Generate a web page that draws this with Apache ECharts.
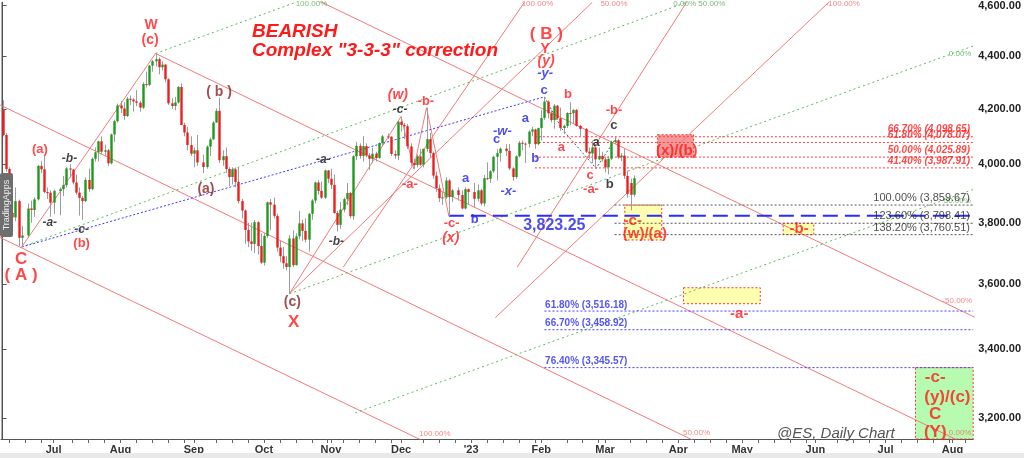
<!DOCTYPE html>
<html><head><meta charset="utf-8">
<script src="https://cdn.jsdelivr.net/npm/echarts@6/dist/echarts.min.js"></script>
<style>html,body{margin:0;padding:0;background:#fff}#c{width:1024px;height:458px}</style>
</head><body><div id="c"></div><script>
// ---------------- DATA ----------------
const axisStart = '2022-06-09';
const axisEnd = '2023-08-09';
// daily candles: [date, open, high, low, close]
const candles = [
['2022-06-09',4198,4232,4100,4105],['2022-06-10',4105,4112,3975,3984],['2022-06-13',3984,3990,3815,3833],
['2022-06-14',3833,3862,3790,3818],['2022-06-15',3818,3920,3805,3873],['2022-06-16',3873,3878,3722,3750],
['2022-06-17',3750,3790,3720,3758],['2022-06-21',3758,3865,3750,3848],['2022-06-22',3848,3875,3800,3843],
['2022-06-23',3843,3885,3820,3879],['2022-06-24',3879,3998,3875,3995],['2022-06-27',3995,4012,3970,3983],
['2022-06-28',3983,4030,3900,3904],['2022-06-29',3904,3920,3880,3902],['2022-06-30',3902,3910,3820,3868],
['2022-07-01',3868,3912,3830,3908],['2022-07-05',3908,3920,3825,3914],['2022-07-06',3914,3960,3890,3928],
['2022-07-07',3928,3990,3920,3986],['2022-07-08',3986,4001,3955,3982],['2022-07-11',3982,3985,3930,3937],
['2022-07-12',3937,3965,3895,3902],['2022-07-13',3902,3920,3824,3884],['2022-07-14',3884,3890,3810,3873],
['2022-07-15',3873,3955,3870,3946],['2022-07-18',3946,3985,3905,3914],['2022-07-19',3914,4025,3910,4020],
['2022-07-20',4020,4060,4010,4043],['2022-07-21',4043,4085,4010,4082],['2022-07-22',4082,4100,4035,4045],
['2022-07-25',4045,4070,4030,4050],['2022-07-26',4050,4055,3995,4004],['2022-07-27',4004,4110,4000,4107],
['2022-07-28',4107,4160,4080,4155],['2022-07-29',4155,4220,4150,4213],['2022-08-01',4213,4230,4185,4202],
['2022-08-02',4202,4225,4160,4174],['2022-08-03',4174,4245,4170,4238],['2022-08-04',4238,4250,4215,4235],
['2022-08-05',4235,4240,4190,4228],['2022-08-08',4228,4270,4210,4223],['2022-08-09',4223,4230,4190,4205],
['2022-08-10',4205,4300,4200,4293],['2022-08-11',4293,4340,4280,4290],['2022-08-12',4290,4365,4285,4363],
['2022-08-15',4363,4385,4340,4380],['2022-08-16',4380,4410,4360,4388],['2022-08-17',4388,4395,4330,4357],
['2022-08-18',4357,4380,4345,4367],['2022-08-19',4367,4370,4300,4311],['2022-08-22',4311,4315,4215,4221],
['2022-08-23',4221,4240,4200,4211],['2022-08-24',4211,4245,4195,4224],['2022-08-25',4224,4285,4220,4282],
['2022-08-26',4282,4295,4140,4141],['2022-08-29',4141,4150,4100,4114],['2022-08-30',4114,4135,4050,4069],
['2022-08-31',4069,4100,4030,4038],['2022-09-01',4038,4060,3990,4050],['2022-09-02',4050,4105,3995,4007],
['2022-09-06',4007,4035,3970,3991],['2022-09-07',3991,4068,3985,4063],['2022-09-08',4063,4095,4030,4089],
['2022-09-09',4089,4155,4088,4150],['2022-09-12',4150,4202,4150,4193],['2022-09-13',4193,4242,4005,4015],
['2022-09-14',4015,4050,3995,4029],['2022-09-15',4029,4060,3970,3984],['2022-09-16',3984,3990,3925,3956],
['2022-09-19',3956,3990,3930,3983],['2022-09-20',3983,3990,3920,3939],['2022-09-21',3939,3990,3865,3873],
['2022-09-22',3873,3880,3815,3841],['2022-09-23',3841,3845,3730,3776],['2022-09-26',3776,3800,3720,3738],
['2022-09-27',3738,3800,3707,3730],['2022-09-28',3730,3810,3700,3802],['2022-09-29',3802,3805,3695,3723],
['2022-09-30',3723,3765,3665,3669],['2022-10-03',3669,3765,3660,3756],['2022-10-04',3756,3872,3750,3869],
['2022-10-05',3869,3880,3775,3861],['2022-10-06',3861,3885,3815,3823],['2022-10-07',3823,3830,3705,3718],
['2022-10-10',3718,3740,3670,3690],['2022-10-11',3690,3720,3650,3667],['2022-10-12',3667,3690,3645,3655],
['2022-10-13',3655,3760,3570,3748],['2022-10-14',3748,3775,3655,3661],['2022-10-17',3661,3765,3660,3755],
['2022-10-18',3755,3840,3745,3798],['2022-10-19',3798,3810,3740,3773],['2022-10-20',3773,3815,3735,3744],
['2022-10-21',3744,3832,3705,3830],['2022-10-24',3830,3880,3810,3875],['2022-10-25',3875,3940,3865,3937],
['2022-10-26',3937,3945,3895,3908],['2022-10-27',3908,3940,3880,3885],['2022-10-28',3885,3982,3880,3979],
['2022-10-31',3979,3980,3935,3950],['2022-11-01',3950,3985,3915,3929],['2022-11-02',3929,3965,3830,3833],
['2022-11-03',3833,3840,3771,3793],['2022-11-04',3793,3870,3780,3844],['2022-11-07',3844,3885,3835,3880],
['2022-11-08',3880,3935,3860,3901],['2022-11-09',3901,3905,3815,3822],['2022-11-10',3822,4032,3810,4029],
['2022-11-11',4029,4080,4015,4066],['2022-11-14',4066,4075,4020,4030],['2022-11-15',4030,4101,4010,4065],
['2022-11-16',4065,4075,4025,4032],['2022-11-17',4032,4040,3980,4020],['2022-11-18',4020,4060,4005,4038],
['2022-11-21',4038,4045,4010,4023],['2022-11-22',4023,4078,4020,4076],['2022-11-23',4076,4105,4065,4100],
['2022-11-25',4100,4110,4090,4099],['2022-11-28',4099,4100,4030,4037],['2022-11-29',4037,4050,4020,4031],
['2022-11-30',4031,4155,4015,4153],['2022-12-01',4153,4172,4118,4141],['2022-12-02',4141,4148,4090,4137],
['2022-12-05',4137,4145,4055,4064],['2022-12-06',4064,4075,3995,4006],['2022-12-07',4006,4020,3985,3998],
['2022-12-08',3998,4035,3990,4028],['2022-12-09',4028,4055,3995,3999],['2022-12-12',3999,4056,3990,4055],
['2022-12-13',4055,4205,4045,4090],['2022-12-14',4090,4112,4025,4040],['2022-12-15',4040,4045,3950,3961],
['2022-12-16',3961,3975,3905,3917],['2022-12-19',3917,3930,3870,3883],['2022-12-20',3883,3905,3860,3886],
['2022-12-21',3886,3955,3880,3944],['2022-12-22',3944,3950,3823.25,3887],['2022-12-23',3887,3915,3870,3910],
['2022-12-27',3910,3920,3875,3894],['2022-12-28',3894,3910,3845,3848],['2022-12-29',3848,3920,3845,3914],
['2022-12-30',3914,3916,3860,3904],['2023-01-03',3904,3935,3851,3881],['2023-01-04',3881,3930,3872,3910],
['2023-01-05',3910,3915,3859,3865],['2023-01-06',3865,3963,3855,3952],['2023-01-09',3952,4007,3945,3950],
['2023-01-10',3950,3980,3935,3976],['2023-01-11',3976,4030,3970,4027],['2023-01-12',4027,4054,3944,4040],
['2023-01-13',4040,4060,4010,4056],['2023-01-17',4056,4072,4030,4048],['2023-01-18',4048,4073,3980,3986],
['2023-01-19',3986,3990,3943,3956],['2023-01-20',3956,4032,3950,4029],['2023-01-23',4029,4083,4025,4077],
['2023-01-24',4077,4085,4050,4074],['2023-01-25',4074,4078,4005,4073],['2023-01-26',4073,4122,4060,4117],
['2023-01-27',4117,4135,4100,4125],['2023-01-30',4125,4128,4055,4072],['2023-01-31',4072,4132,4068,4130],
['2023-02-01',4130,4196,4085,4167],['2023-02-02',4167,4245,4160,4227],['2023-02-03',4227,4232,4165,4184],
['2023-02-06',4184,4195,4150,4159],['2023-02-07',4159,4218,4128,4212],['2023-02-08',4212,4215,4160,4166],
['2023-02-09',4166,4205,4120,4130],['2023-02-10',4130,4142,4108,4138],['2023-02-13',4138,4188,4130,4185],
['2023-02-14',4185,4225,4140,4184],['2023-02-15',4184,4200,4145,4196],['2023-02-16',4196,4200,4135,4138],
['2023-02-17',4138,4142,4100,4127],['2023-02-21',4127,4130,4040,4045],['2023-02-22',4045,4060,4020,4039],
['2023-02-23',4039,4085,4005,4060],['2023-02-24',4060,4065,3988,4018],['2023-02-27',4018,4060,4015,4030],
['2023-02-28',4030,4045,4010,4018],['2023-03-01',4018,4028,3972,3990],['2023-03-02',3990,4030,3965,4020],
['2023-03-03',4020,4085,4015,4080],['2023-03-06',4080,4098,4072,4086],['2023-03-07',4086,4090,4020,4025],
['2023-03-08',4025,4040,4012,4031],['2023-03-09',4031,4055,3950,3960],['2023-03-10',3960,3978,3885,3898],
['2023-03-13',3935,3950,3842,3895],['2023-03-14',3895,3962,3888,3951.75]
];
const lastPrice = 3951.75;
const yMin = 3142, yMax = 4613;
const yTicks = [3200, 3400, 3600, 3800, 4000, 4200, 4400, 4600];
const monthNames = ['Jan','Feb','Mar','Apr','May','Jun','Jul','Aug','Sep','Oct','Nov','Dec'];

// annotation lines: [barIndex, price] points
const channelDown = [
  [[-1, 3752], [305, 2484]],   // 100%
  [[-1, 4216], [305, 2784]],   // 50%
  [[48, 4410], [305, 3116]],   // 0%
  [[-1, 5289], [305, 3497]]    // -50%
];
const redRising = [
  [[6, 3720], [48, 4410]],
  [[90, 3570], [125, 4172]],
  [[90, 3570], [185, 4613]],
  [[106.9, 3655], [163.7, 4613]],
  [[161.5, 3655], [214.6, 4613]],
  [[154.6, 3496], [259.2, 4613]]
];
const redWave = [[125, 4172], [129, 3985], [133, 4205], [140, 3823.25]];
const blackWave = [[170, 4245], [175.4, 4128], [186.2, 3986], [192.4, 4093]];
const greenChannel = [
  [[48, 4410], [92, 4613]],
  [[6, 3720], [214.6, 4613]],
  [[90, 3570], [304.5, 4439]],
  [[110.6, 3215], [304.5, 3913]]
];
const blueTrend = [[6, 3720], [170, 4245]];
const supportLevel = 3823.25, supportStart = 140;
const fibRed = [[66.70, 4098.65], [61.80, 4078.07], [50.00, 4025.89], [41.40, 3987.91]], fibRedStart = 167;
const fibBlack = [[100.00, 3859.67], [123.60, 3798.41], [138.20, 3760.51]], fibBlackStart = 192;
const fibBlue = [[61.80, 3516.18], [66.70, 3458.92], [76.40, 3345.57]], fibBlueStart = 170;
const lineEnd = 304.5;

// target boxes: [x1, p1, x2, p2]
const yellowBoxes = [[195.2, 3859.67, 206.8, 3743], [244.9, 3798.41, 254.5, 3760.51], [213.6, 3589, 237.7, 3539]];
const pinkBox = [205.5, 4106, 216.8, 4025.89];
const greenBox = [286.4, 3345.57, 304.5, 3142];

// text annotations: [text, barIndex, price]
const tRedBig = [['C',5.8,3681],['( A )',5.8,3627],['X',91.3,3483],['( B )',170.6,4486]];
const tRed14 = [['W',46.6,4521],['(c)',46.3,4462],['Y',170.2,4427]];
const tRed = [['(a)',11.7,4053],['(b)',24.8,3733],['-b-',132.8,4227],['-a-',127.8,3931],['-c-',140.9,3799],
  ['b',177.4,4253],['a',175.3,4060],['c',184.3,3962],['-b-',191.8,4194],['-a-',184.6,3913]];
const tRedItalic = [['(w)',124.0,4253],['(x)',140.6,3749],['(y)',170.5,4381]];
const tDarkRed = [['( b )',67.9,4264],['(a)',63.8,3913],['(c)',90.9,3545]];
const tBlackItalic = [['-a-',14.8,3799],['-b-',21.0,4021],['-c-',24.8,3776],['-a-',100.6,4018],['-b-',104.7,3736],['-c-',124.7,4197]];
const tBlack = [['a',186.2,4078],['b',190.5,3931],['c',191.8,4139]];
const tBlue = [['a',145.3,3951],['b',148.1,3812],['c',155.0,4088],['a',164.0,4164],['b',167.1,4021],['c',169.9,4268]];
const tBlueItalic = [['-x-',158.7,3907],['-w-',156.8,4117],['-y-',170.2,4332]];
const tBlueBig = [['3,823.25',173.1,3792]];
const tBox = [['-c-',197.7,3805],['(w)/(a)',201.5,3762],['(x)/(b)',211.5,4049],['-b-',249.9,3779],['-a-',231.1,3508]];
const tGreenBox = [['-c-',292.6,3317],['(y)/(c)',296.4,3259],['C',292.6,3211],['(Y)',292.6,3161]];
const tChanRed = [['100.00%',135.6,3156],['50.00%',217.7,3158],['0.00%',300.4,3158],['-50.00%',299.5,3548],
  ['100.00%',167.8,4605],['50.00%',191.8,4605],['-100.00%',263.6,4605]];
const tChanGreen = [['100.00%',96.9,4605],['0.00% 50.00%',218.6,4605],['0.00%',300.4,4408],['50.00%',299.5,3873]];

// ---------------- BUILD ----------------
const FONT = 'Liberation Sans, Arial, sans-serif';
const L = Math.log;
const DOT = [2, 2];
function weekdays(a, b) {
  const out = []; const d = new Date(a + 'T00:00:00Z'); const e = new Date(b + 'T00:00:00Z');
  while (d <= e) { const w = d.getUTCDay(); if (w !== 0 && w !== 6) out.push(d.toISOString().slice(0, 10)); d.setUTCDate(d.getUTCDate() + 1); }
  return out;
}
const cats = weekdays(axisStart, axisEnd);
const catIndex = {}; cats.forEach((c, i) => catIndex[c] = i);
const monthLabel = {}; const monthStartIdx = [];
cats.forEach((c, i) => {
  if (i > 0 && c.slice(0, 7) !== cats[i - 1].slice(0, 7)) {
    const m = +c.slice(5, 7) - 1;
    monthLabel[c] = m === 0 ? "'" + c.slice(2, 4) : monthNames[m];
    monthStartIdx.push(i);
  }
});
const tickIdx = new Set(monthStartIdx);
cats.forEach((c, i) => {
  const w = new Date(c + 'T00:00:00Z').getUTCDay();
  if (w === 1 && !monthStartIdx.some(m => i > m && i - m <= 3)) tickIdx.add(i);
});
const fmt = v => v.toLocaleString('en-US', {minimumFractionDigits: 2, maximumFractionDigits: 2});

const candleData = candles.map(([d, o, h, l, c]) => [catIndex[d], L(o), L(h), L(l), L(c)]);

function seg(points, lineStyle, z) {
  return {type: 'line', xAxisIndex: 1, yAxisIndex: 0, data: points.map(([x, p]) => [x, L(p)]),
    symbol: 'none', lineStyle: Object.assign({width: 1}, lineStyle), silent: true, z: z || 3, clip: true, animation: false};
}
function textSeries(items, style, z) {
  return {type: 'scatter', xAxisIndex: 1, yAxisIndex: 0, symbolSize: 1, itemStyle: {color: 'rgba(0,0,0,0)'},
    silent: true, z: z || 10, clip: false, animation: false,
    label: Object.assign({show: true, position: 'inside', formatter: '{b}', fontFamily: FONT}, style),
    data: items.map(([t, x, p]) => ({name: t, value: [x, L(p)]}))};
}
const series = [];
const RED_LINE = '#f27a7a';
channelDown.forEach(s => series.push(seg(s, {color: RED_LINE})));
redRising.forEach(s => series.push(seg(s, {color: RED_LINE})));
series.push(seg(redWave, {color: RED_LINE}));
series.push(seg(blackWave, {color: '#555', type: DOT}));
greenChannel.forEach(s => series.push(seg(s, {color: '#5cb85c', type: [2, 3]})));
series.push(seg(blueTrend, {color: '#3a3aff', type: DOT}));
fibRed.forEach(([, p]) => series.push(seg([[fibRedStart, p], [lineEnd, p]], {color: '#ff3b3b', type: DOT})));
fibBlack.forEach(([, p]) => series.push(seg([[fibBlackStart, p], [lineEnd, p]], {color: '#555', type: DOT})));
fibBlue.forEach(([, p]) => series.push(seg([[fibBlueStart, p], [lineEnd, p]], {color: '#4040ff', type: DOT})));
series.push(seg([[supportStart, supportLevel], [lineEnd, supportLevel]], {color: '#2b2bff', width: 2, type: [15, 7]}, 4));

// boxes
const boxStyle = (fill) => ({color: fill, borderColor: '#ff3333', borderWidth: 1, borderType: [2, 2]});
const areaData = [];
yellowBoxes.forEach(b => areaData.push([{coord: [b[0], L(b[1])], itemStyle: boxStyle('#ffffb0')}, {coord: [b[2], L(b[3])]}]));
areaData.push([{coord: [pinkBox[0], L(pinkBox[1])], itemStyle: boxStyle('rgba(238,90,90,0.62)')}, {coord: [pinkBox[2], L(pinkBox[3])]}]);
areaData.push([{coord: [greenBox[0], L(greenBox[1])], itemStyle: boxStyle('#b6fbb0')}, {coord: [greenBox[2], L(greenBox[3])]}]);
series.push({type: 'line', xAxisIndex: 1, yAxisIndex: 0, data: [[0, L(4000)]], symbol: 'none', lineStyle: {opacity: 0},
  silent: true, z: 1, animation: false, markArea: {silent: true, data: areaData, label: {show: false}},
  markLine: {silent: true, symbol: ['none', 'none'], animation: false, lineStyle: {opacity: 0},
    data: [{yAxis: L(lastPrice)}],
    label: {show: true, position: 'end', formatter: fmt(lastPrice), color: '#fff', backgroundColor: '#ff2626',
      fontWeight: 'bold', fontSize: 11, fontFamily: FONT, padding: [2, 3, 1, 3], distance: 2}}});

// candles
series.push({type: 'custom', xAxisIndex: 0, yAxisIndex: 0, z: 6, animation: false, silent: true,
  encode: {x: 0, y: [1, 2, 3, 4]}, data: candleData,
  renderItem: function (params, api) {
    const i = api.value(0), o = api.value(1), h = api.value(2), l = api.value(3), c = api.value(4);
    const pO = api.coord([i, o]), pC = api.coord([i, c]), pH = api.coord([i, h]), pL = api.coord([i, l]);
    const x = Math.round(pO[0]) + 0.5, w = 2.4;
    const top = Math.min(pO[1], pC[1]), bot = Math.max(pO[1], pC[1]);
    return {type: 'group', children: [
      {type: 'line', shape: {x1: x, y1: pH[1], x2: x, y2: pL[1]}, style: {stroke: '#9c9c9c', lineWidth: 1}},
      {type: 'rect', shape: {x: x - w / 2, y: top, width: w, height: Math.max(bot - top, 1)},
        style: {fill: c >= o ? '#1d9a1d' : '#ee1d1d'}}
    ]};
  }});

// texts
series.push(textSeries(tRedBig, {color: '#ff1a1a', fontSize: 17, fontWeight: 'bold'}));
series.push(textSeries(tRed14, {color: '#ff1a1a', fontSize: 14, fontWeight: 'bold'}));
series.push(textSeries(tRed, {color: '#ff1a1a', fontSize: 13, fontWeight: 'bold'}));
series.push(textSeries(tRedItalic, {color: '#ff1a1a', fontSize: 14, fontWeight: 'bold', fontStyle: 'italic'}));
series.push(textSeries(tDarkRed, {color: '#8a2222', fontSize: 14, fontWeight: 'bold'}));
series.push(textSeries(tBlackItalic, {color: '#111', fontSize: 12, fontWeight: 'bold', fontStyle: 'italic'}));
series.push(textSeries(tBlack, {color: '#111', fontSize: 13, fontWeight: 'bold'}));
series.push(textSeries(tBlue, {color: '#2020ee', fontSize: 13, fontWeight: 'bold'}));
series.push(textSeries(tBlueItalic, {color: '#2020ee', fontSize: 13, fontWeight: 'bold', fontStyle: 'italic'}));
series.push(textSeries(tBlueBig, {color: '#2020ee', fontSize: 16, fontWeight: 'bold'}));
series.push(textSeries(tBox, {color: '#ff1a1a', fontSize: 15, fontWeight: 'bold'}));
series.push(textSeries(tGreenBox, {color: '#ff1a1a', fontSize: 17, fontWeight: 'bold'}));
series.push(textSeries(tChanRed, {color: '#f06a6a', fontSize: 8}));
series.push(textSeries(tChanGreen, {color: '#55a855', fontSize: 8}));
series.push(textSeries(fibRed.map(([pct, p]) => [pct.toFixed(2) + '% (' + fmt(p) + ')', 303.5, p]),
  {color: '#ff1a1a', fontSize: 10, fontWeight: 'bold', fontStyle: 'italic', align: 'right', offset: [0, -7]}));
series.push(textSeries(fibBlack.map(([pct, p]) => [pct.toFixed(2) + '% (' + fmt(p) + ')', 303.5, p]),
  {color: '#222', fontSize: 11, align: 'right', offset: [0, -7]}));
series.push(textSeries(fibBlue.map(([pct, p]) => [pct.toFixed(2) + '% (' + fmt(p) + ')', 170.2, p]),
  {color: '#2a2aee', fontSize: 10, fontWeight: 'bold', align: 'left', offset: [0, -6]}));

const option = {
  animation: false,
  textStyle: {fontFamily: FONT},
  grid: {left: 1, right: 46, top: 0, bottom: 19, containLabel: false},
  xAxis: [
    {type: 'category', data: cats, boundaryGap: true,
      axisLine: {lineStyle: {color: '#555'}},
      axisTick: {show: true, alignWithLabel: true, length: 4, interval: (i) => tickIdx.has(i), lineStyle: {color: '#666'}},
      axisLabel: {interval: (i, v) => !!monthLabel[v], formatter: (v) => monthLabel[v] || '', color: '#333',
        fontWeight: 'bold', fontSize: 11, fontFamily: FONT, margin: 5},
      splitLine: {show: false}},
    {type: 'value', min: -0.5, max: cats.length - 0.5, show: false}
  ],
  yAxis: [
    {type: 'value', position: 'right', min: L(yMin), max: L(yMax),
      axisLine: {show: true, lineStyle: {color: '#555'}},
      axisTick: {show: true, length: 4, customValues: yTicks.map(L), lineStyle: {color: '#555'}},
      axisLabel: {customValues: yTicks.map(L), formatter: (v) => fmt(Math.round(Math.exp(v))), color: '#222',
        fontWeight: 'bold', fontSize: 11, fontFamily: FONT, margin: 5},
      splitLine: {show: false}},
    {type: 'value', position: 'left', min: L(yMin), max: L(yMax),
      axisLine: {show: true, lineStyle: {color: '#aaa'}}, axisTick: {show: false}, axisLabel: {show: false}, splitLine: {show: false}}
  ],
  graphic: [
    {type: 'text', x: 252, y: 22, z: 100, style: {text: 'BEARISH', fill: '#ff1a1a', font: 'italic bold 19px ' + FONT, textAlign: 'left', textVerticalAlign: 'top'}},
    {type: 'text', x: 252, y: 41, z: 100, style: {text: 'Complex "3-3-3" correction', fill: '#ff1a1a', font: 'italic bold 19px ' + FONT, textAlign: 'left', textVerticalAlign: 'top'}},
    {type: 'text', x: 777, y: 441, z: 100, style: {text: '@ES, Daily Chart', fill: '#555', font: 'italic 15px ' + FONT, textAlign: 'left', textVerticalAlign: 'bottom'}},
    {type: 'rect', z: 100, shape: {x: 0, y: 173, width: 13, height: 64, r: 2}, style: {fill: '#6e6e6e'}},
    {type: 'text', x: 7, y: 205, rotation: Math.PI / 2, z: 101, style: {text: 'TradingApps', fill: '#eeeeee', font: '9px ' + FONT, textAlign: 'center', textVerticalAlign: 'middle'}},
    {type: 'rect', z: 100, shape: {x: 0, y: 453, width: 1024, height: 5}, style: {fill: '#e9e9e9'}}
  ],
  series: series
};
const chart = echarts.init(document.getElementById('c'), null, {renderer: 'canvas'});
chart.setOption(option);
</script></body></html>
